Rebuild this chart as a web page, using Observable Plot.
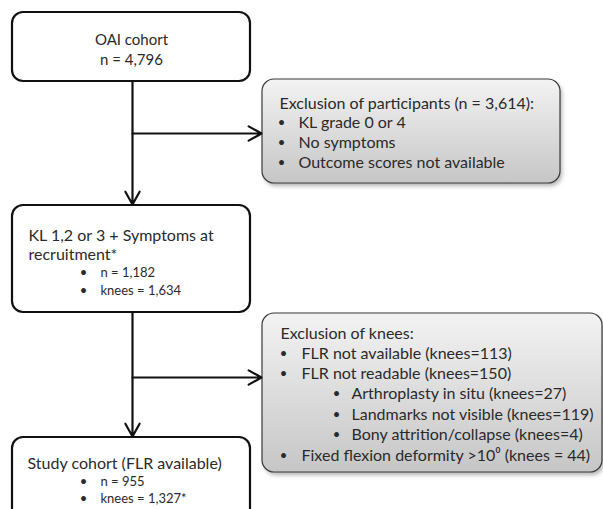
<!DOCTYPE html>
<html>
<head>
<meta charset="utf-8">
<script src="https://cdn.jsdelivr.net/npm/d3@7"></script>
<script src="https://cdn.jsdelivr.net/npm/@observablehq/plot@0.6"></script>
<style>
  html, body { margin: 0; padding: 0; background: #fff; }
  #chart svg { display: block; }
</style>
</head>
<body>
<div id="chart"></div>
<script>
// ---- Text content of the flowchart ----
const cohortLines = ["OAI cohort", "n = 4,796"];
const exclParticipantsTitle = "Exclusion of participants (n = 3,614):";
const exclParticipantsItems = ["KL grade 0 or 4", "No symptoms", "Outcome scores not available"];
const recruitTitle = ["KL 1,2 or 3 + Symptoms at", "recruitment*"];
const recruitItems = ["n = 1,182", "knees = 1,634"];
const exclKneesTitle = "Exclusion of knees:";
const exclKneesItems = ["FLR not available (knees=113)", "FLR not readable (knees=150)", "Arthroplasty in situ (knees=27)", "Landmarks not visible (knees=119)", "Bony attrition/collapse (knees=4)", "Fixed flexion deformity >10\u2070 (knees = 44)"];
const exclKneesLevels = [1, 1, 2, 2, 2, 1];
const studyTitle = "Study cohort (FLR available)";
const studyItems = ["n = 955", "knees = 1,327*"];

// ---- Layout (diagram coordinate system) ----
const mainBoxes = [
  {x1: 12, x2: 250, y1: 12, y2: 81},
  {x1: 12, x2: 250, y1: 205, y2: 312},
  {x1: 12, x2: 250, y1: 437, y2: 525}
];
const sideBoxes = [
  {x1: 262, x2: 560, y1: 79, y2: 183},
  {x1: 262, x2: 602, y1: 313, y2: 472}
];
const arrows = [
  {x1: 132, y1: 81, x2: 132, y2: 204},
  {x1: 132, y1: 312, x2: 132, y2: 436},
  {x1: 132, y1: 133, x2: 261, y2: 133},
  {x1: 132, y1: 377, x2: 261, y2: 377}
];

const FONT = "Lato, 'Open Sans', sans-serif";

// text rows
const centered = cohortLines.map((t, i) => ({t, x: 131, y: 40 + i * 20}));

const leftRows = [];
leftRows.push({t: exclParticipantsTitle, x: 279, y: 103, s: 16});
exclParticipantsItems.forEach((t, i) => leftRows.push({t, x: 298, y: 122.5 + i * 20, s: 16, b: 281}));
recruitTitle.forEach((t, i) => leftRows.push({t, x: 28, y: 235 + i * 19, s: 16}));
recruitItems.forEach((t, i) => leftRows.push({t, x: 100, y: 272 + i * 18, s: 13, b: 83}));
leftRows.push({t: exclKneesTitle, x: 280, y: 333, s: 16});
exclKneesItems.forEach((t, i) => {
  const lvl = exclKneesLevels[i];
  leftRows.push({t, x: lvl === 1 ? 301 : 351, y: 353 + i * 20.4, s: 16, b: lvl === 1 ? 283 : 336});
});
leftRows.push({t: studyTitle, x: 27, y: 463, s: 16});
studyItems.forEach((t, i) => leftRows.push({t, x: 100, y: 481 + i * 17, s: 13, b: 83}));

const bullets = leftRows.filter(d => d.b != null);

const textMark = (rows, size) => Plot.text(rows.filter(d => d.s === size), {
  x: "x", y: "y", text: "t", textAnchor: "start", fontSize: size, fill: "#2a2a2a", fontFamily: FONT
});

const chart = Plot.plot({
  width: 603,
  height: 509,
  margin: 0,
  x: {domain: [0, 603], range: [0, 603], axis: null},
  y: {domain: [0, 509], range: [0, 509], axis: null},
  style: {fontFamily: FONT, background: "#fff"},
  marks: [
    // shadows of grey boxes
    Plot.rect(sideBoxes, {x1: d => d.x1 + 2, x2: d => d.x2 + 2, y1: d => d.y1 + 3, y2: d => d.y2 + 3, rx: 12, fill: "#7f7f7f", fillOpacity: 0.6}),
    // grey gradient boxes
    Plot.rect(sideBoxes, {x1: "x1", x2: "x2", y1: "y1", y2: "y2", rx: 12, fill: "url(#greyGrad)", stroke: "#3a3a3a", strokeWidth: 1.2}),
    // white main boxes
    Plot.rect(mainBoxes, {x1: "x1", x2: "x2", y1: "y1", y2: "y2", rx: 11, fill: "#fff", stroke: "#111", strokeWidth: 2.2}),
    // connectors
    Plot.arrow(arrows, {x1: "x1", y1: "y1", x2: "x2", y2: "y2", stroke: "#111", strokeWidth: 2.2, headLength: 10, headAngle: 58, bend: 0}),
    // text
    Plot.text(centered, {x: "x", y: "y", text: "t", textAnchor: "middle", fontSize: 15, fill: "#2a2a2a", fontFamily: FONT}),
    textMark(leftRows, 16),
    textMark(leftRows, 13),
    Plot.text(bullets, {x: "b", y: "y", text: () => "\u2022", textAnchor: "middle", fontSize: 13, fill: "#2a2a2a", fontFamily: FONT})
  ]
});

const defs = d3.select(chart).insert("defs", ":first-child");
const grad = defs.append("linearGradient").attr("id", "greyGrad").attr("x1", 0).attr("y1", 0).attr("x2", 0).attr("y2", 1);
grad.append("stop").attr("offset", "0%").attr("stop-color", "#f3f3f3");
grad.append("stop").attr("offset", "100%").attr("stop-color", "#c6c6c6");
defs.append("filter").attr("id", "blur").attr("x", "-10%").attr("y", "-10%").attr("width", "120%").attr("height", "130%")
  .append("feGaussianBlur").attr("stdDeviation", 2);
d3.select(chart).selectAll("g[fill='#7f7f7f']").attr("filter", "url(#blur)");

document.getElementById("chart").appendChild(chart);
</script>
</body>
</html>
